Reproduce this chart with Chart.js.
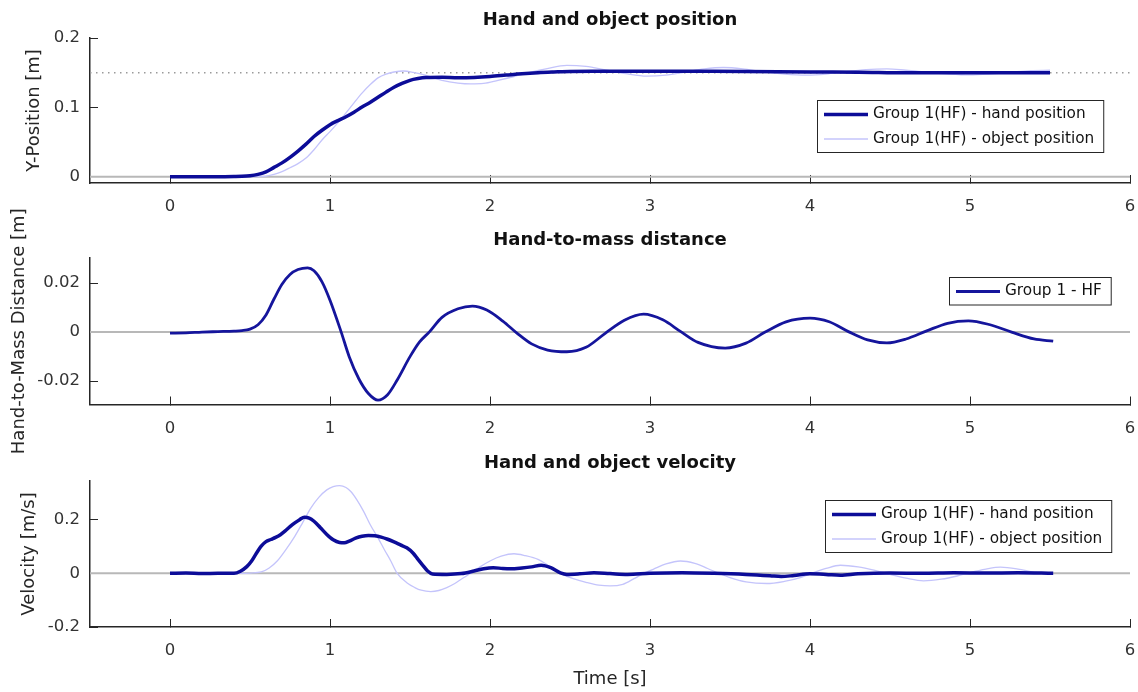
<!DOCTYPE html>
<html>
<head>
<meta charset="utf-8">
<script src="https://cdn.jsdelivr.net/npm/chart.js@4"></script>
<style>
body { margin: 0; background: #fff; }
#wrap { position: relative; width: 1138px; height: 692px; }
canvas { position: absolute; left: 0; top: 0; }
</style>
</head>
<body>
<div id="wrap">
  <canvas id="posChart" width="1138" height="692"></canvas>
  <canvas id="distChart" width="1138" height="692"></canvas>
  <canvas id="velChart" width="1138" height="692"></canvas>
</div>
<script>
// tick values
const xTicks = [0, 1, 2, 3, 4, 5, 6]
const posTicks = [0, 0.1, 0.2]
const distTicks = [-0.02, 0, 0.02]
const velTicks = [-0.2, 0, 0.2]
const targetPos = 0.15

// hand / object position [m]
const tHandPos = [0, 0.1, 0.2, 0.3, 0.4, 0.45, 0.5, 0.55, 0.6, 0.65, 0.7, 0.75, 0.8, 0.85, 0.9, 0.95, 1.0, 1.05, 1.1, 1.15, 1.2, 1.25, 1.3, 1.35, 1.4, 1.45, 1.5, 1.55, 1.6, 1.7, 1.8, 1.9, 2.0, 2.1, 2.2, 2.3, 2.4, 2.5, 2.7, 3.0, 3.3, 3.6, 4.0, 4.3, 4.6, 5.0, 5.3, 5.5]
const handPos = [0, 0, 0, 0, 0.0003, 0.0006, 0.0015, 0.0035, 0.007, 0.0135, 0.02, 0.028, 0.037, 0.047, 0.058, 0.067, 0.075, 0.081, 0.0865, 0.093, 0.1005, 0.107, 0.1145, 0.122, 0.129, 0.1345, 0.139, 0.1415, 0.143, 0.1435, 0.1428, 0.1432, 0.1445, 0.1465, 0.1485, 0.150, 0.151, 0.1518, 0.152, 0.1522, 0.152, 0.1518, 0.151, 0.1508, 0.150, 0.150, 0.1498, 0.150]
const tObjPos = [0, 0.2, 0.4, 0.5, 0.55, 0.6, 0.65, 0.7, 0.75, 0.8, 0.85, 0.9, 0.95, 1.0, 1.05, 1.1, 1.15, 1.2, 1.25, 1.3, 1.35, 1.4, 1.46, 1.52, 1.6, 1.7, 1.8, 1.88, 1.96, 2.05, 2.15, 2.25, 2.35, 2.48, 2.6, 2.72, 2.85, 2.98, 3.1, 3.22, 3.34, 3.46, 3.58, 3.7, 3.84, 3.98, 4.1, 4.22, 4.35, 4.48, 4.6, 4.74, 4.87, 5.0, 5.12, 5.25, 5.38, 5.5]
const objPos = [0, 0, 0, 0.0001, 0.0003, 0.001, 0.0035, 0.0075, 0.013, 0.019, 0.027, 0.039, 0.053, 0.065, 0.078, 0.092, 0.1065, 0.1205, 0.1325, 0.1425, 0.148, 0.151, 0.1524, 0.1505, 0.1462, 0.139, 0.135, 0.1338, 0.1345, 0.139, 0.1445, 0.1505, 0.1555, 0.1605, 0.159, 0.154, 0.1485, 0.145, 0.1465, 0.151, 0.1555, 0.1575, 0.1555, 0.1515, 0.148, 0.1465, 0.148, 0.1515, 0.1545, 0.1555, 0.1535, 0.1505, 0.148, 0.1468, 0.148, 0.1505, 0.153, 0.1535]

// hand-to-mass distance [m]
const tDist = [0, 0.1, 0.2, 0.3, 0.4, 0.45, 0.5, 0.55, 0.6, 0.65, 0.7, 0.75, 0.8, 0.86, 0.9, 0.95, 1.0, 1.07, 1.12, 1.18, 1.24, 1.3, 1.36, 1.42, 1.5, 1.56, 1.62, 1.7, 1.8, 1.89, 1.98, 2.08, 2.17, 2.26, 2.36, 2.48, 2.6, 2.72, 2.84, 2.96, 3.08, 3.19, 3.3, 3.47, 3.6, 3.72, 3.85, 4.0, 4.12, 4.24, 4.36, 4.48, 4.6, 4.73, 4.86, 4.99, 5.12, 5.26, 5.4, 5.52]
const dist = [-0.0004, -0.0003, 0, 0.0002, 0.0004, 0.0006, 0.0012, 0.003, 0.007, 0.0135, 0.0195, 0.0235, 0.0255, 0.0262, 0.025, 0.0205, 0.013, 0, -0.01, -0.019, -0.025, -0.0277, -0.0255, -0.0195, -0.01, -0.004, 0, 0.006, 0.0095, 0.0106, 0.009, 0.0045, -0.0005, -0.0048, -0.0073, -0.008, -0.0062, -0.0005, 0.0048, 0.0073, 0.005, 0.0003, -0.0042, -0.0065, -0.0045, 0, 0.0042, 0.0057, 0.0042, 0.0002, -0.0032, -0.0044, -0.0028, 0.0005, 0.0036, 0.0046, 0.0031, 0, -0.0028, -0.0037]

// hand / object velocity [m/s]
const tHandVel = [0, 0.1, 0.2, 0.3, 0.4, 0.44, 0.48, 0.51, 0.54, 0.57, 0.6, 0.63, 0.66, 0.69, 0.72, 0.75, 0.78, 0.81, 0.84, 0.87, 0.9, 0.94, 0.98, 1.02, 1.06, 1.09, 1.12, 1.16, 1.2, 1.24, 1.28, 1.32, 1.36, 1.4, 1.44, 1.48, 1.52, 1.55, 1.58, 1.61, 1.64, 1.73, 1.82, 1.9, 1.96, 2.02, 2.08, 2.13, 2.2, 2.26, 2.32, 2.38, 2.44, 2.48, 2.56, 2.65, 2.75, 2.86, 3.0, 3.2, 3.4, 3.6, 3.75, 3.82, 3.9, 4.0, 4.1, 4.19, 4.3, 4.5, 4.7, 4.9, 5.1, 5.3, 5.52]
const handVel = [0, 0.001, -0.001, 0, 0, 0.008, 0.025, 0.046, 0.075, 0.101, 0.118, 0.126, 0.134, 0.144, 0.158, 0.174, 0.188, 0.2, 0.209, 0.206, 0.194, 0.17, 0.145, 0.125, 0.115, 0.114, 0.12, 0.131, 0.138, 0.141, 0.14, 0.135, 0.127, 0.117, 0.106, 0.095, 0.075, 0.052, 0.03, 0.0086, -0.0025, -0.004, -0.001, 0.0086, 0.017, 0.021, 0.018, 0.017, 0.02, 0.024, 0.03, 0.021, 0.002, -0.004, -0.002, 0.002, -0.001, -0.004, 0, 0.002, 0, -0.004, -0.009, -0.012, -0.008, -0.002, -0.004, -0.007, -0.002, 0.001, 0, 0.002, 0.001, 0.002, 0]
const tObjVel = [0, 0.3, 0.45, 0.5, 0.57, 0.62, 0.67, 0.72, 0.78, 0.83, 0.88, 0.93, 0.98, 1.02, 1.06, 1.1, 1.13, 1.17, 1.21, 1.25, 1.3, 1.34, 1.38, 1.42, 1.48, 1.53, 1.57, 1.63, 1.68, 1.73, 1.78, 1.82, 1.88, 1.94, 2.0, 2.07, 2.15, 2.22, 2.3, 2.37, 2.44, 2.52, 2.61, 2.68, 2.75, 2.83, 2.9, 2.96, 3.02, 3.1, 3.19, 3.28, 3.36, 3.43, 3.5, 3.6, 3.73, 3.84, 3.94, 4.01, 4.1, 4.19, 4.3, 4.4, 4.5, 4.6, 4.71, 4.82, 4.92, 5.0, 5.1, 5.19, 5.3, 5.4, 5.52]
const objVel = [0, 0, 0, 0.001, 0.005, 0.02, 0.046, 0.085, 0.138, 0.19, 0.243, 0.283, 0.311, 0.323, 0.327, 0.32, 0.305, 0.272, 0.231, 0.183, 0.132, 0.088, 0.046, 0, -0.035, -0.053, -0.063, -0.068, -0.064, -0.053, -0.038, -0.022, 0, 0.025, 0.046, 0.064, 0.073, 0.066, 0.052, 0.027, 0, -0.02, -0.035, -0.044, -0.047, -0.041, -0.02, 0, 0.015, 0.035, 0.046, 0.037, 0.018, 0, -0.016, -0.032, -0.038, -0.03, -0.016, 0, 0.018, 0.03, 0.024, 0.012, -0.004, -0.018, -0.028, -0.022, -0.01, 0.003, 0.016, 0.023, 0.016, 0.004, -0.004]

const FONT = 'DejaVu Sans'
const AXIS = '#262626'
const HAND = '#0c0c98'
const OBJ = '#c4c4fb'
const X_RANGE = [-0.5, 6]

Chart.defaults.font.family = FONT

function pts(t, v) {
    return t.map((x, i) => ({x: x, y: v[i]}))
}

function hline(y, color, width, dash) {
    return {
        data: [{x: X_RANGE[0], y: y}, {x: X_RANGE[1], y: y}],
        borderColor: color, borderWidth: width, borderDash: dash || []
    }
}

// legend box drawn inside the axes, matlab style
const boxLegend = {
    id: 'boxLegend',
    afterDraw(chart, args, opts) {
        const items = chart.data.datasets.filter(d => d.label)
        if (!items.length) return
        const ctx = chart.ctx
        const area = chart.chartArea
        ctx.save()
        ctx.font = '15.3px "' + FONT + '"'
        let textW = 0
        items.forEach(d => { textW = Math.max(textW, ctx.measureText(d.label).width) })
        const w = 7 + 44 + 5 + textW + 9
        const h = 14.5 + (items.length - 1) * 24.5 + 13
        const x = Math.round(area.right - opts.right - w)
        const y = Math.round(area.top + opts.top)
        ctx.fillStyle = '#fff'
        ctx.fillRect(x, y, w, h)
        ctx.strokeStyle = AXIS
        ctx.lineWidth = 1
        ctx.strokeRect(x + 0.5, y + 0.5, w, h)
        items.forEach((d, i) => {
            const cy = y + 14.5 + i * 24.5
            ctx.strokeStyle = d.borderColor
            ctx.lineWidth = d.borderWidth
            ctx.beginPath()
            ctx.moveTo(x + 7, cy)
            ctx.lineTo(x + 51, cy)
            ctx.stroke()
            ctx.fillStyle = '#111'
            ctx.textBaseline = 'middle'
            ctx.fillText(d.label, x + 56, cy)
        })
        ctx.restore()
    }
}

function buildChart(id, o) {
    return new Chart(document.getElementById(id), {
        type: 'line',
        data: {datasets: o.datasets},
        options: {
            responsive: false,
            animation: false,
            events: [],
            layout: {
                padding: {top: o.top - 28, left: 0, right: 8, bottom: 692 - o.bottom - o.xHeight}
            },
            elements: {
                point: {radius: 0},
                line: {cubicInterpolationMode: 'monotone'}
            },
            plugins: {
                legend: {display: false},
                tooltip: {enabled: false},
                title: {
                    display: true,
                    text: o.title,
                    fullSize: false,
                    color: '#111',
                    font: {size: 18, weight: 'bold', lineHeight: '20px'},
                    padding: {top: 0, bottom: 8}
                },
                boxLegend: o.legend
            },
            scales: {
                x: {
                    type: 'linear',
                    min: X_RANGE[0],
                    max: X_RANGE[1],
                    afterBuildTicks: s => { s.ticks = xTicks.map(v => ({value: v})) },
                    afterFit: s => { s.height = o.xHeight; s.paddingLeft = 0; s.paddingRight = 0 },
                    grid: {drawOnChartArea: false, tickLength: -8, color: AXIS, lineWidth: 1},
                    border: {color: AXIS, width: 1.5},
                    ticks: {padding: 22, color: '#333', font: {size: 16.5}, callback: v => String(v)},
                    title: o.xTitle || {display: false}
                },
                y: {
                    min: o.yRange[0],
                    max: o.yRange[1],
                    afterBuildTicks: s => { s.ticks = o.yTicks.map(v => ({value: v})) },
                    afterFit: s => { s.width = 90; s.paddingTop = 0; s.paddingBottom = 0 },
                    grid: {drawOnChartArea: false, tickLength: -8, color: AXIS, lineWidth: 1},
                    border: {color: AXIS, width: 1.5},
                    ticks: {padding: 18, color: '#333', font: {size: 16.5}, callback: v => String(v)},
                    title: {display: true, text: o.yTitle, color: AXIS, font: {size: 18}, padding: {top: o.yTitlePad, bottom: 0}}
                }
            }
        },
        plugins: [boxLegend]
    })
}

// Position
buildChart('posChart', {
    title: 'Hand and object position',
    top: 38, bottom: 183, xHeight: 30,
    yRange: [-0.009, 0.2], yTicks: posTicks,
    yTitle: 'Y-Position [m]', yTitlePad: 24,
    legend: {right: 27, top: 62},
    datasets: [
        {label: 'Group 1(HF) - hand position', data: pts(tHandPos, handPos), borderColor: HAND, borderWidth: 3.5},
        {label: 'Group 1(HF) - object position', data: pts(tObjPos, objPos), borderColor: OBJ, borderWidth: 1.3},
        hline(targetPos, '#9a9a9a', 1.5, [1.5, 4.5]),
        hline(0, '#b8b8b8', 2)
    ]
})

// Distance
buildChart('distChart', {
    title: 'Hand-to-mass distance',
    top: 258, bottom: 404.5, xHeight: 30,
    yRange: [-0.0295, 0.0302], yTicks: distTicks,
    yTitle: 'Hand-to-Mass Distance [m]', yTitlePad: 9,
    legend: {right: 19, top: 19},
    datasets: [
        {label: 'Group 1 - HF', data: pts(tDist, dist), borderColor: '#15159c', borderWidth: 2.8},
        hline(0, '#b8b8b8', 2)
    ]
})

// Velocity
buildChart('velChart', {
    title: 'Hand and object velocity',
    top: 481, bottom: 627, xHeight: 65,
    yRange: [-0.2, 0.344], yTicks: velTicks,
    yTitle: 'Velocity [m/s]', yTitlePad: 19,
    legend: {right: 19, top: 19},
    xTitle: {display: true, text: 'Time [s]', color: AXIS, font: {size: 18}, padding: {top: 0, bottom: 2}},
    datasets: [
        {label: 'Group 1(HF) - hand position', data: pts(tHandVel, handVel), borderColor: HAND, borderWidth: 3.5},
        {label: 'Group 1(HF) - object position', data: pts(tObjVel, objVel), borderColor: OBJ, borderWidth: 1.3},
        hline(0, '#b8b8b8', 2)
    ]
})
</script>
</body>
</html>
